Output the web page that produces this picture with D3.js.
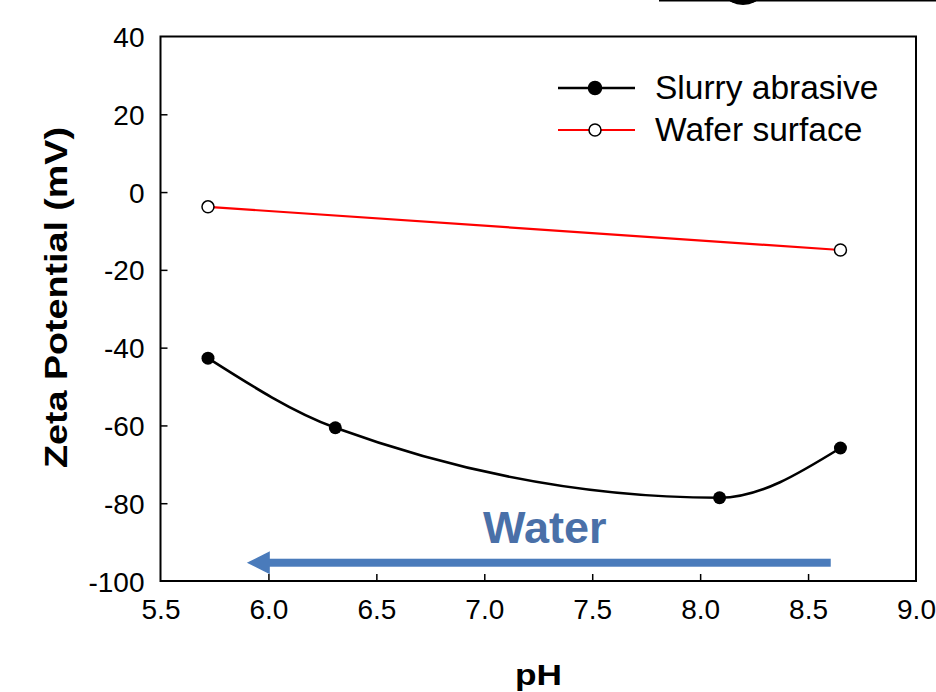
<!DOCTYPE html>
<html>
<head>
<meta charset="utf-8">
<script src="https://cdn.jsdelivr.net/npm/d3@7"></script>
<style>
  body { margin: 0; background: #fff; }
  svg { display: block; font-family: "Liberation Sans", Arial, sans-serif; }
</style>
</head>
<body>
<svg id="chart"></svg>
<script>
// Data
const slurryPH = [5.72, 6.31, 8.09, 8.65];
const slurryZeta = [-42.7, -60.6, -78.6, -65.8];
const waferPH = [5.72, 8.65];
const waferZeta = [-3.8, -14.9];
const xTicks = [5.5, 6.0, 6.5, 7.0, 7.5, 8.0, 8.5, 9.0];
const yTicks = [-100, -80, -60, -40, -20, 0, 20, 40];
const arrowPH = [8.605, 5.9];
const arrowZeta = -95.3;

const W = 936, H = 692;
const margin = { top: 36.5, right: 20, bottom: 111, left: 160.5 };
const width = W - margin.left - margin.right;
const height = H - margin.top - margin.bottom;

const svg = d3.select("#chart").attr("width", W).attr("height", H);
const g = svg.append("g").attr("transform", `translate(${margin.left},${margin.top})`);

const x = d3.scaleLinear().domain([5.5, 9.0]).range([0, width]);
const y = d3.scaleLinear().domain([-100, 40]).range([height, 0]);

// cropped title box at the top edge
svg.append("line").attr("x1", 659).attr("x2", W).attr("y1", 0.5).attr("y2", 0.5)
  .attr("stroke", "#000").attr("stroke-width", 2);
svg.append("ellipse").attr("cx", 743).attr("cy", -4).attr("rx", 16).attr("ry", 9).attr("fill", "#000");

// axes with inward ticks
const fmt = d => String(d).replace("\u2212", "-");
const xAxis = g.append("g").attr("transform", `translate(0,${height})`)
  .call(d3.axisBottom(x).tickValues(xTicks).tickFormat(d3.format(".1f")).tickSizeInner(-7).tickSizeOuter(0).tickPadding(18));
const yAxis = g.append("g")
  .call(d3.axisLeft(y).tickValues(yTicks).tickFormat(fmt).tickSizeInner(-7).tickSizeOuter(0).tickPadding(16));
[xAxis, yAxis].forEach(a => {
  a.select(".domain").remove();
  a.selectAll("line").attr("stroke", "#000").attr("stroke-width", 1.5);
  a.selectAll("text").attr("font-size", 28).attr("fill", "#000")
    .attr("font-family", "Liberation Sans, Arial, sans-serif");
});
// hide ticks sitting on the frame corners
xAxis.selectAll(".tick").filter(d => d === 5.5 || d === 9.0).select("line").remove();
yAxis.selectAll(".tick").filter(d => d === -100 || d === 40).select("line").remove();
yAxis.selectAll("text").attr("dy", "0.36em");

// frame
g.append("rect").attr("width", width).attr("height", height)
  .attr("fill", "none").attr("stroke", "#000").attr("stroke-width", 2);

// wafer surface line
g.append("path")
  .datum(waferPH.map((p, i) => [p, waferZeta[i]]))
  .attr("fill", "none").attr("stroke", "#ff0000").attr("stroke-width", 2.2)
  .attr("d", d3.line().x(d => x(d[0])).y(d => y(d[1])));

// slurry abrasive smoothed curve
g.append("path")
  .datum(slurryPH.map((p, i) => [p, slurryZeta[i]]))
  .attr("fill", "none").attr("stroke", "#000").attr("stroke-width", 2.6)
  .attr("d", d3.line().curve(d3.curveMonotoneX).x(d => x(d[0])).y(d => y(d[1])));

g.selectAll(".slurry").data(slurryPH).enter().append("circle")
  .attr("cx", d => x(d)).attr("cy", (d, i) => y(slurryZeta[i])).attr("r", 6.5)
  .attr("fill", "#000");
g.selectAll(".wafer").data(waferPH).enter().append("circle")
  .attr("cx", d => x(d)).attr("cy", (d, i) => y(waferZeta[i])).attr("r", 6)
  .attr("fill", "#fff").attr("stroke", "#000").attr("stroke-width", 1.5);

// water arrow
const ax0 = x(arrowPH[0]), ax1 = x(arrowPH[1]), ay = y(arrowZeta);
const blue = "#4a7bbb";
g.append("rect").attr("x", ax1 + 22).attr("y", ay - 4).attr("width", ax0 - ax1 - 22).attr("height", 8)
  .attr("fill", blue);
g.append("path")
  .attr("d", `M${ax1},${ay} L${ax1 + 23},${ay - 11.5} L${ax1 + 23},${ay + 11.5} Z`)
  .attr("fill", blue);
g.append("text").attr("x", (ax0 + ax1) / 2 + 6).attr("y", ay - 20)
  .attr("text-anchor", "middle").attr("font-size", 45).attr("font-weight", "bold")
  .attr("fill", "#4a70a8").text("Water");

// legend
const legend = [
  { label: "Slurry abrasive", color: "#000", fill: "#000", r: 6.5, sw: 2.6, y: 88 },
  { label: "Wafer surface", color: "#ff0000", fill: "#fff", r: 6, sw: 2.2, y: 130 }
];
const lg = svg.append("g");
legend.forEach(d => {
  lg.append("line").attr("x1", 558).attr("x2", 635).attr("y1", d.y).attr("y2", d.y)
    .attr("stroke", d.color).attr("stroke-width", d.sw);
  lg.append("circle").attr("cx", 595).attr("cy", d.y).attr("r", d.r)
    .attr("fill", d.fill).attr("stroke", "#000").attr("stroke-width", 1.5);
  lg.append("text").attr("x", 655).attr("y", d.y + 11).attr("font-size", 33.5)
    .attr("fill", "#000").text(d.label);
});

// axis titles (slightly stretched along the baseline, as in the reference)
svg.append("text").attr("x", 538.5).attr("y", 685)
  .attr("text-anchor", "middle").attr("font-size", 29).attr("font-weight", "bold")
  .attr("textLength", 47).attr("lengthAdjust", "spacingAndGlyphs").text("pH");
svg.append("text").attr("transform", "translate(67,297.5) rotate(-90)")
  .attr("text-anchor", "middle").attr("font-size", 31).attr("font-weight", "bold")
  .attr("textLength", 341).attr("lengthAdjust", "spacingAndGlyphs")
  .text("Zeta Potential (mV)");
</script>
</body>
</html>
